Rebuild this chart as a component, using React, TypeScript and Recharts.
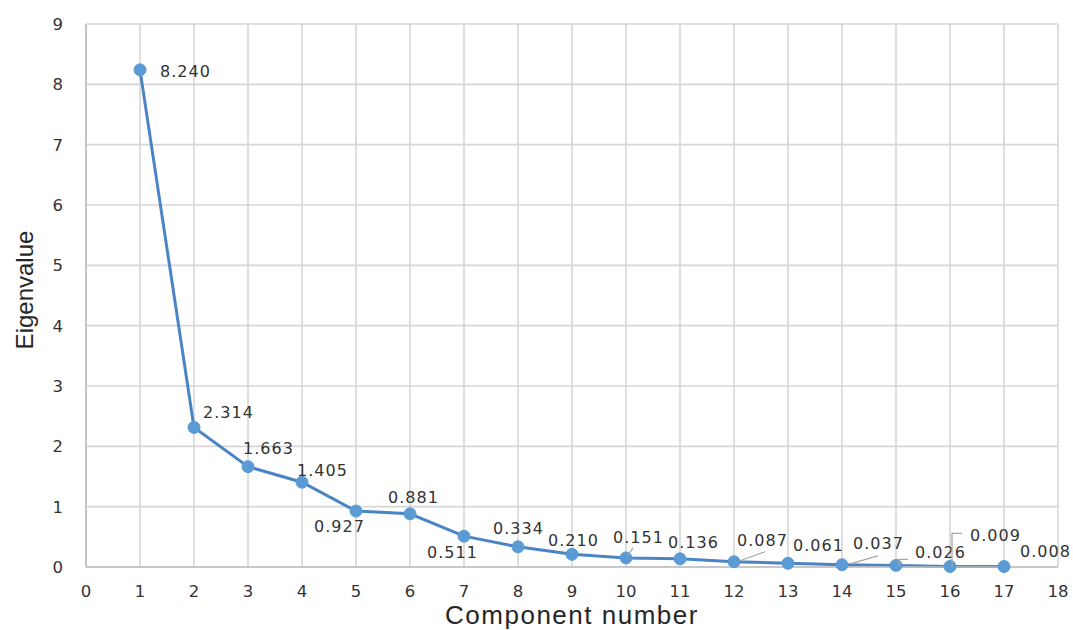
import React from "react";
import { LineChart, Line, XAxis, YAxis, CartesianGrid, LabelList } from "recharts";

const components = [1, 2, 3, 4, 5, 6, 7, 8, 9, 10, 11, 12, 13, 14, 15, 16, 17];
const eigenvalues = [8.24, 2.314, 1.663, 1.405, 0.927, 0.881, 0.511, 0.334, 0.21, 0.151, 0.136, 0.087, 0.061, 0.037, 0.026, 0.009, 0.008];
const eigenLabels = ["8.240", "2.314", "1.663", "1.405", "0.927", "0.881", "0.511", "0.334", "0.210", "0.151", "0.136", "0.087", "0.061", "0.037", "0.026", "0.009", "0.008"];
const xTicks = [0, 1, 2, 3, 4, 5, 6, 7, 8, 9, 10, 11, 12, 13, 14, 15, 16, 17, 18];
const yTicks = [0, 1, 2, 3, 4, 5, 6, 7, 8, 9];

const data = components.map((c, i) => ({ comp: c, value: eigenvalues[i], label: eigenLabels[i] }));

// label placement (style): [dx to text start, dy to text center]
const labelOffsets: [number, number][] = [
  [20, 1], [9, -15], [-5, -19], [-5, -12], [-42, 15], [-22, -17], [-37, 16], [-25, -19],
  [-24, -14], [-13, -21], [-12, -17], [3, -22], [5, -18], [11, -22], [19, -13], [20, -31], [16, -16],
];
// leader lines (style), relative to the point
const leaders: Record<number, [number, number][]> = {
  9: [[2, -3], [7, -10]],
  11: [[6, -1], [31, -10]],
  13: [[8, -1], [36, -9]],
  14: [[3, 0], [3, -6], [12, -6]],
  15: [[2, 0], [2, -33], [12, -33]],
};

const LINE_COLOR = "#4A84C4";
const DOT_COLOR = "#5B9BD5";

const renderLabel = (props: any) => {
  const { x, y, index } = props;
  const [dx, dy] = labelOffsets[index];
  const lead = leaders[index];
  return (
    <g>
      {lead && (
        <polyline
          points={lead.map(([a, b]) => `${x + a},${y + b}`).join(" ")}
          fill="none"
          stroke="#a6a6a6"
          strokeWidth={1.3}
        />
      )}
      <text
        x={x + dx}
        y={y + dy + 6}
        fill="#333333"
        fontSize={16}
        letterSpacing={1}
        fontFamily="DejaVu Sans, Verdana, sans-serif"
        textAnchor="start"
      >
        {data[index].label}
      </text>
    </g>
  );
};

export default function App() {
  return (
    <div style={{ position: "absolute", left: 0, top: 0, width: 1073, height: 630, background: "#fff" }}>
      <LineChart width={1073} height={630} data={data} margin={{ top: 24, right: 15, left: 0, bottom: 33 }}>
        <CartesianGrid stroke="#d6d6d6" strokeWidth={1.6} />
        <XAxis
          dataKey="comp"
          type="number"
          domain={[0, 18]}
          ticks={xTicks}
          interval={0}
          height={30}
          tickLine={false}
          tickSize={0}
          tickMargin={18}
          axisLine={{ stroke: "#bfbfbf", strokeWidth: 1.6 }}
          tick={{ fill: "#333333", fontSize: 16.5, fontFamily: "DejaVu Sans, sans-serif" }}
          label={{
            content: (p: any) => {
              const vb = p.viewBox;
              return (
                <text
                  x={vb.x + vb.width / 2}
                  y={vb.y + 57}
                  textAnchor="middle"
                  fontSize={26}
                  letterSpacing={1.5}
                  fill="#262626"
                  fontFamily="Liberation Sans, Arial, sans-serif"
                >
                  Component number
                </text>
              );
            },
          }}
        />
        <YAxis
          type="number"
          domain={[0, 9]}
          ticks={yTicks}
          interval={0}
          width={86}
          tickLine={false}
          tickSize={0}
          tickMargin={23}
          axisLine={{ stroke: "#bfbfbf", strokeWidth: 1.6 }}
          tick={{ fill: "#333333", fontSize: 16.5, fontFamily: "DejaVu Sans, sans-serif" }}
          label={{
            content: () => (
              <text
                x={33}
                y={290}
                transform="rotate(-90, 33, 290)"
                textAnchor="middle"
                fontSize={24}
                fill="#262626"
                fontFamily="Liberation Sans, Arial, sans-serif"
              >
                Eigenvalue
              </text>
            ),
          }}
        />
        <Line
          type="linear"
          dataKey="value"
          stroke={LINE_COLOR}
          strokeWidth={3}
          dot={{ r: 6, fill: DOT_COLOR, stroke: DOT_COLOR, strokeWidth: 1 }}
          activeDot={false}
          isAnimationActive={false}
        >
          <LabelList dataKey="value" content={renderLabel} />
        </Line>
      </LineChart>
    </div>
  );
}
